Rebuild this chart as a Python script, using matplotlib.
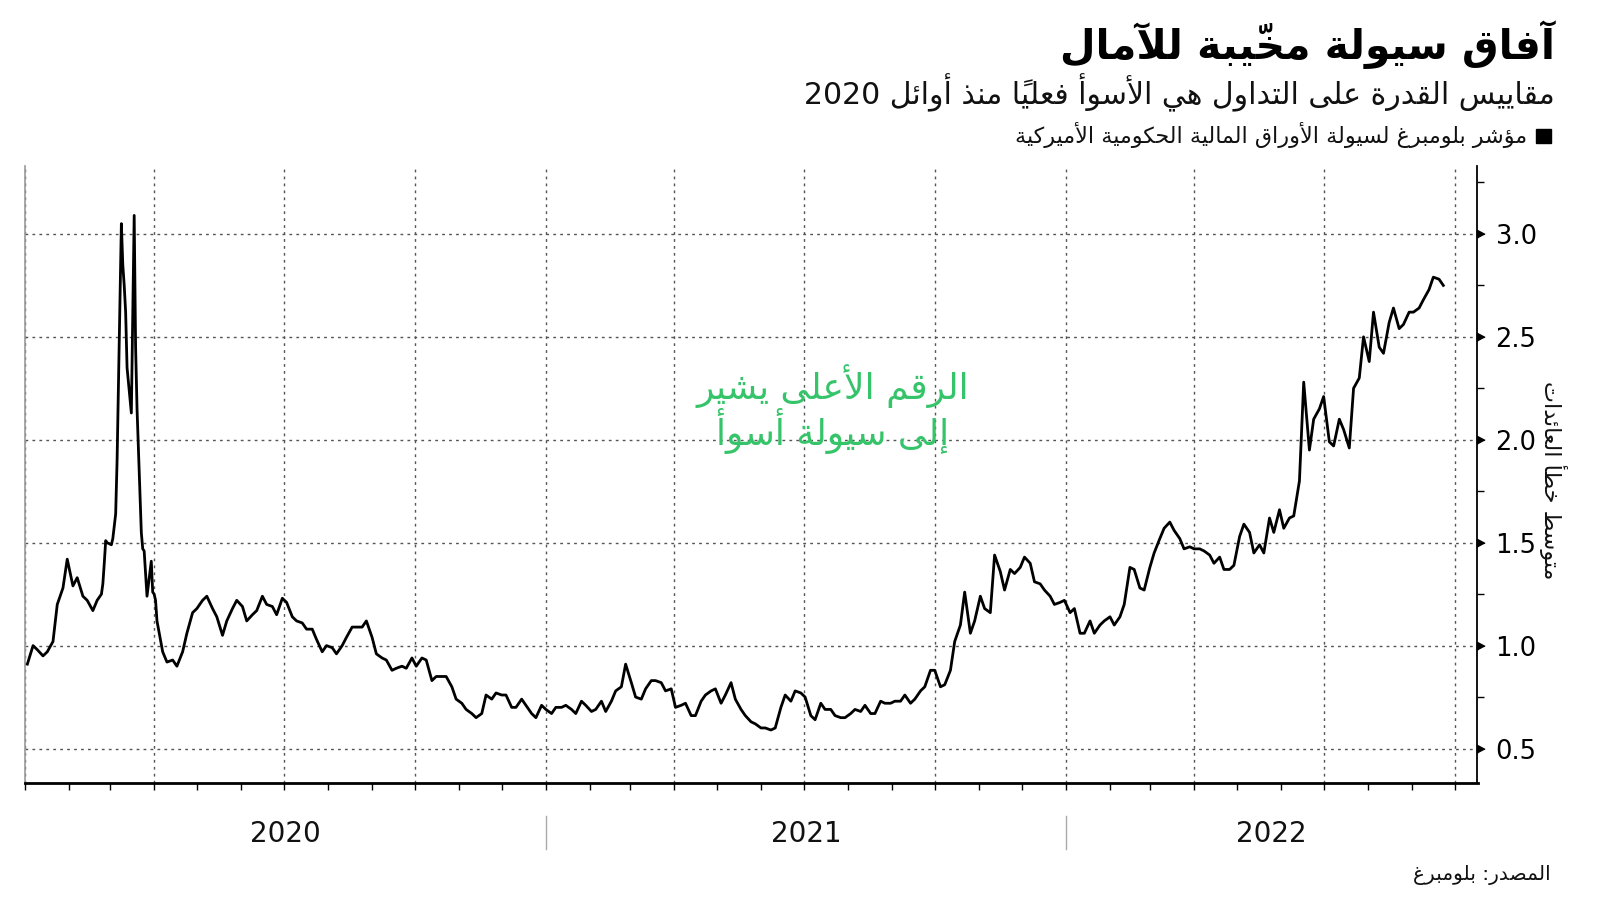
import pandas as pd
import matplotlib
matplotlib.use("Agg")
import matplotlib.pyplot as plt
import matplotlib.dates as mdates
import matplotlib.transforms as mtransforms
from matplotlib.ticker import MultipleLocator, FormatStrFormatter
from matplotlib.patches import Rectangle

# ---------------- data ----------------
fri_start = "2020-01-03"          # Friday readings
fri_values = [
    0.91, 0.98, 0.97, 1.20, 1.42, 1.33, 1.22, 1.22, 1.50, 1.90,
    2.35, 2.15, 1.24, 1.12, 0.92, 0.90, 1.06, 1.18, 1.24, 1.14,
    1.12, 1.22, 1.12, 1.17, 1.20, 1.15, 1.21, 1.12, 1.08, 1.03,
    1.00, 0.96, 1.04, 1.09, 1.12, 0.96, 0.93, 0.89, 0.89, 0.90,
    0.93, 0.85, 0.85, 0.74, 0.69, 0.65, 0.76, 0.77, 0.76, 0.70,
    0.71, 0.65, 0.69, 0.70, 0.71, 0.67, 0.71, 0.69, 0.68, 0.78,
    0.91, 0.75, 0.79, 0.83, 0.78, 0.70, 0.72, 0.66, 0.76, 0.79,
    0.76, 0.74, 0.66, 0.62, 0.60, 0.60, 0.76, 0.78, 0.75, 0.64,
    0.69, 0.66, 0.65, 0.69, 0.71, 0.67, 0.72, 0.73, 0.76, 0.74,
    0.80, 0.88, 0.81, 1.02, 1.26, 1.12, 1.18, 1.44, 1.27, 1.35,
    1.43, 1.31, 1.27, 1.20, 1.22, 1.18, 1.06, 1.06, 1.12, 1.10,
    1.20, 1.37, 1.27, 1.45, 1.57, 1.56, 1.47, 1.47, 1.46, 1.40,
    1.37, 1.39, 1.59, 1.45, 1.45, 1.55, 1.57, 1.63, 2.28, 2.10,
    2.21, 1.97, 2.05, 2.25, 2.50, 2.62, 2.42, 2.64, 2.56, 2.62,
    2.68, 2.79, 2.75,
]
tue_start = "2020-01-07"          # Tuesday readings
tue_values = [
    1.00, 0.95, 1.02, 1.28, 1.29, 1.24, 1.17, 1.30, 1.52, 2.85,
    2.60, 1.47, 1.26, 0.97, 0.93, 0.97, 1.16, 1.22, 1.18, 1.05,
    1.18, 1.19, 1.15, 1.24, 1.19, 1.23, 1.14, 1.11, 1.08, 0.97,
    0.99, 1.00, 1.09, 1.09, 1.04, 0.94, 0.88, 0.90, 0.94, 0.94,
    0.83, 0.85, 0.80, 0.72, 0.67, 0.67, 0.74, 0.76, 0.70, 0.74,
    0.67, 0.71, 0.67, 0.70, 0.69, 0.73, 0.68, 0.73, 0.73, 0.80,
    0.82, 0.74, 0.83, 0.82, 0.79, 0.71, 0.66, 0.73, 0.78, 0.72,
    0.82, 0.69, 0.63, 0.60, 0.59, 0.70, 0.73, 0.77, 0.66, 0.72,
    0.69, 0.65, 0.67, 0.68, 0.67, 0.73, 0.72, 0.73, 0.72, 0.78,
    0.88, 0.80, 0.88, 1.10, 1.06, 1.24, 1.16, 1.36, 1.37, 1.38,
    1.40, 1.30, 1.24, 1.21, 1.16, 1.06, 1.12, 1.10, 1.14, 1.14,
    1.38, 1.28, 1.38, 1.52, 1.60, 1.52, 1.48, 1.47, 1.44, 1.43,
    1.37, 1.53, 1.55, 1.49, 1.62, 1.66, 1.62, 1.80, 1.95, 2.15,
    1.99, 2.10, 1.96, 2.30, 2.38, 2.45, 2.57, 2.54, 2.62, 2.64,
    2.73, 2.78,
]
# daily readings around the March 2020 spike (business days)
spike_start = "2020-02-24"
spike_end = "2020-04-03"
spike_values = [
    1.25, 1.30, 1.40, 1.51, 1.50,
    1.49, 1.52, 1.58, 1.64, 1.90,
    3.05, 2.85, 2.75, 2.62, 2.35,
    2.13, 2.60, 3.09, 2.45, 2.15,
    1.55, 1.47, 1.46, 1.35, 1.24,
    1.41, 1.26, 1.25, 1.22, 1.12,
]

title = "آفاق سيولة مخيّبة للآمال"
subtitle = "مقاييس القدرة على التداول هي الأسوأ فعلياً منذ أوائل 2020"
legend_label = "مؤشر بلومبرغ لسيولة الأوراق المالية الحكومية الأميركية"
y_label = "متوسط خطأ العائدات"
note_lines = ["الرقم الأعلى يشير", "إلى سيولة أسوأ"]
source = "المصدر: بلومبرغ"
y_ticks = [0.5, 1.0, 1.5, 2.0, 2.5, 3.0]
years = [2020, 2021, 2022]
x_start, x_end = "2020-01-01", "2022-10-17"

# ---------------- simple arabic shaping ----------------
_forms = [
    ("ء", 0xFE80, 1), ("آ", 0xFE81, 2), ("أ", 0xFE83, 2), ("ؤ", 0xFE85, 2),
    ("إ", 0xFE87, 2), ("ئ", 0xFE89, 4), ("ا", 0xFE8D, 2), ("ب", 0xFE8F, 4),
    ("ة", 0xFE93, 2), ("ت", 0xFE95, 4), ("ث", 0xFE99, 4), ("ج", 0xFE9D, 4),
    ("ح", 0xFEA1, 4), ("خ", 0xFEA5, 4), ("د", 0xFEA9, 2), ("ذ", 0xFEAB, 2),
    ("ر", 0xFEAD, 2), ("ز", 0xFEAF, 2), ("س", 0xFEB1, 4), ("ش", 0xFEB5, 4),
    ("ص", 0xFEB9, 4), ("ض", 0xFEBD, 4), ("ط", 0xFEC1, 4), ("ظ", 0xFEC5, 4),
    ("ع", 0xFEC9, 4), ("غ", 0xFECD, 4), ("ف", 0xFED1, 4), ("ق", 0xFED5, 4),
    ("ك", 0xFED9, 4), ("ل", 0xFEDD, 4), ("م", 0xFEE1, 4), ("ن", 0xFEE5, 4),
    ("ه", 0xFEE9, 4), ("و", 0xFEED, 2), ("ى", 0xFEEF, 2), ("ي", 0xFEF1, 4),
]
FORMS = {c: (b, n) for c, b, n in _forms}
LAM_ALEF = {"آ": 0xFEF5, "أ": 0xFEF7, "إ": 0xFEF9, "ا": 0xFEFB}
MARKS = set(chr(c) for c in range(0x064B, 0x0653))


def shape(text):
    res = []
    prev_dual = False
    i = 0
    while i < len(text):
        c = text[i]
        if c in FORMS:
            base, n = FORMS[c]
            j = i + 1
            while j < len(text) and text[j] in MARKS:
                j += 1
            nxt = text[j] if j < len(text) else ""
            if c == "ل" and nxt in LAM_ALEF:
                res.append(chr(LAM_ALEF[nxt] + (1 if prev_dual else 0)))
                prev_dual = False
                i = j + 1
                continue
            join_next = n == 4 and nxt in FORMS and FORMS[nxt][1] > 1
            join_prev = prev_dual and n > 1
            if join_prev and join_next:
                g = base + 3
            elif join_prev:
                g = base + 1
            elif join_next:
                g = base + 2
            else:
                g = base
            res.append(chr(g))
            prev_dual = n == 4
        elif c in MARKS and res:
            res[-1] += c
        else:
            res.append(c)
            prev_dual = False
        i += 1
    return res


def ar(text):
    runs = []
    for g in shape(text):
        ltr = g[0].isascii() and (g[0].isalnum() or g[0] == ".")
        if ltr and runs and runs[-1][0]:
            runs[-1][1].append(g)
        else:
            runs.append([ltr, [g]])
    out = []
    for ltr, gs in reversed(runs):
        out.extend(gs if ltr else reversed(gs))
    return "".join(out)


# ---------------- series ----------------
fri = pd.Series(fri_values, index=pd.date_range(fri_start, periods=len(fri_values), freq="W-FRI"))
tue = pd.Series(tue_values, index=pd.date_range(tue_start, periods=len(tue_values), freq="W-TUE"))
twice_weekly = pd.concat([fri, tue]).sort_index()
spike = pd.Series(spike_values, index=pd.bdate_range(spike_start, spike_end))
series = pd.concat([twice_weekly[twice_weekly.index < spike_start], spike,
                    twice_weekly[twice_weekly.index > spike_end]])

# ---------------- figure ----------------
plt.rcParams["font.family"] = ["DejaVu Sans"]
fig = plt.figure(figsize=(16, 9.01), dpi=100)
ax = fig.add_axes([24.5 / 1600, 1 - 782.5 / 901, (1477.5 - 24.5) / 1600, (782.5 - 166) / 901])

ax.plot(series.index, series.values, color="black", lw=2.0, solid_joinstyle="round")

ax.set_xlim(pd.Timestamp(x_start), pd.Timestamp(x_end))
ax.set_ylim(0.335, 3.33)

# x axis: quarter grid, monthly ticks
ax.xaxis.set_major_locator(mdates.MonthLocator(bymonth=[1, 4, 7, 10]))
ax.xaxis.set_minor_locator(mdates.MonthLocator())
ax.xaxis.set_major_formatter(plt.NullFormatter())
ax.tick_params(axis="x", which="both", direction="out", length=5, width=1, color="black")
ax.xaxis.grid(True, which="major", linestyle=(0, (2, 3)), color="#555555", lw=1)

# y axis on the right
ax.yaxis.tick_right()
ax.set_yticks(y_ticks)
ax.yaxis.set_minor_locator(MultipleLocator(0.25))
ax.yaxis.set_major_formatter(FormatStrFormatter("%.1f"))
ax.tick_params(axis="y", which="major", length=0, pad=13, labelsize=18.5)
ax.tick_params(axis="y", which="minor", direction="out", length=5, width=1, color="black")
ax.yaxis.grid(True, which="major", linestyle=(0, (2, 3)), color="#555555", lw=1)

# triangular major tick marks
ytrans = ax.get_yaxis_transform()
ax.plot([1.0] * len(y_ticks), y_ticks, transform=ytrans, linestyle="none",
        marker=[(0, -1), (0, 1), (1.9, 0)], markersize=11, color="black", clip_on=False)

ax.spines["top"].set_visible(False)
ax.spines["left"].set_color("#999999")
ax.spines["left"].set_linewidth(1.2)
ax.spines["right"].set_linewidth(1.3)
ax.spines["bottom"].set_linewidth(2)

# year labels and separators under the axis
xtrans = mtransforms.blended_transform_factory(ax.transData, fig.transFigure)
lo, hi = mdates.date2num(pd.Timestamp(x_start)), mdates.date2num(pd.Timestamp(x_end))
for yr in years:
    a = max(mdates.date2num(pd.Timestamp(f"{yr}-01-01")), lo)
    b = min(mdates.date2num(pd.Timestamp(f"{yr + 1}-01-01")), hi)
    ax.text((a + b) / 2, 1 - 834 / 901, str(yr), transform=xtrans, ha="center",
            va="center", fontsize=20, color="#111111")
    if yr > years[0]:
        ax.plot([a, a], [1 - 816 / 901, 1 - 849 / 901], transform=xtrans,
                color="#aaaaaa", lw=1, clip_on=False)

# texts
fig.text(1555 / 1600, 1 - 59 / 901, ar(title), ha="right", va="baseline",
         fontsize=29.5, fontweight="bold", color="black")
fig.text(1555 / 1600, 1 - 104 / 901, ar(subtitle), ha="right", va="baseline",
         fontsize=21.5, color="#111111")
fig.text(1527 / 1600, 1 - 143 / 901, ar(legend_label), ha="right", va="baseline",
         fontsize=16, color="#111111")
fig.patches.append(Rectangle((1536 / 1600, 1 - 143 / 901), 14.5 / 1600, 14.5 / 901,
                             transform=fig.transFigure, color="black"))
fig.text(1553 / 1600, 1 - 480 / 901, ar(y_label), rotation=270, ha="center",
         va="center", fontsize=16, color="#111111")
fig.text(1551 / 1600, 1 - 880 / 901, ar(source), ha="right", va="baseline",
         fontsize=14.5, color="#111111")
fig.text(833 / 1600, 1 - 409 / 901, "\n".join(ar(t) for t in note_lines), ha="center",
         va="center", fontsize=26, color="#36c46a", linespacing=1.02)

fig.savefig("out.png", dpi=100)
